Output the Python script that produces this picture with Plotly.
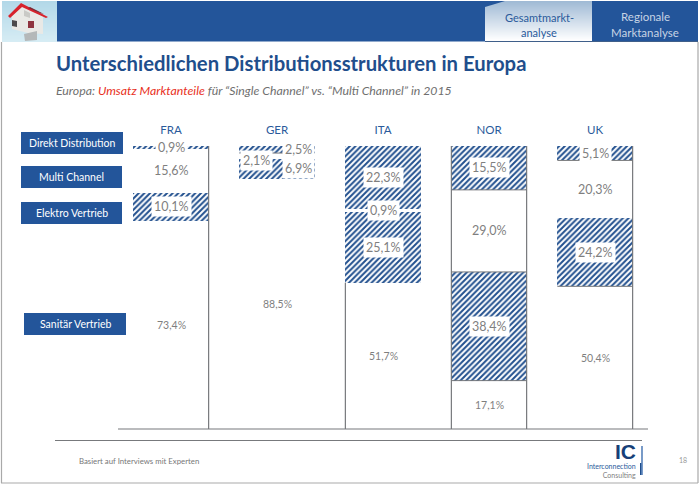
import plotly.graph_objects as go

# ---------- data ----------
countries = ["FRA", "GER", "ITA", "NOR", "UK"]
sanitaer = [73.4, 88.5, 51.7, 17.1, 50.4]
elektro = [10.1, 6.9, 25.1, 38.4, 24.2]
multi = [15.6, 2.1, 0.9, 29.0, 20.3]
direkt = [0.9, 2.5, 22.3, 15.5, 5.1]
channel_names = ["Sanitär Vertrieb", "Elektro Vertrieb", "Multi Channel", "Direkt Distribution"]

title_text = "Unterschiedlichen Distributionsstrukturen in Europa"
footer_text = "Basiert auf Interviews mit Experten"

# ---------- style ----------
W, H = 700, 485
FONT = "Lato"
BLUE = "#23559a"
NAVY = "#1f4e8c"
GREY = "#7f7f7f"
LINE = "#77797c"
BAR_W = 0.71
PLOT_L, PLOT_R, PLOT_T, PLOT_B = 118, 648, 146, 429


def px(v):
    return v / W


def py(v):
    return 1 - v / H


def rect(x0, y0, x1, y1, color, **kw):
    return dict(type="rect", xref="paper", yref="paper", x0=px(x0), x1=px(x1),
                y0=py(y0), y1=py(y1), fillcolor=color, line_width=0, layer="below", **kw)


def poly(points, color, layer="below"):
    d = "M " + " L ".join(f"{px(a):.5f},{py(b):.5f}" for a, b in points) + " Z"
    return dict(type="path", xref="paper", yref="paper", path=d, fillcolor=color,
                line_width=0, layer=layer)


def hline(x0, x1, y, color=LINE, width=1):
    return dict(type="line", xref="paper", yref="paper", x0=px(x0), x1=px(x1),
                y0=py(y), y1=py(y), line=dict(color=color, width=width))


def vline(x, y0, y1, color="#a9a9a9", width=1.2):
    return dict(type="line", xref="paper", yref="paper", x0=px(x), x1=px(x),
                y0=py(y0), y1=py(y1), line=dict(color=color, width=width))


def mix(c1, c2, t):
    return "rgb(" + ",".join(str(round(a + (b - a) * t)) for a, b in zip(c1, c2)) + ")"


def txt(x, y, s, size=11, color=GREY, anchor="center", family=FONT, **kw):
    return dict(xref="paper", yref="paper", x=px(x), y=py(y), text=s, showarrow=False,
                xanchor=anchor, yanchor="middle", font=dict(size=size, color=color, family=family), **kw)


fig = go.Figure()

hatch = dict(shape="/", size=4, solidity=0.5, fgcolor="#23518f", fgopacity=1, bgcolor="white")
series = [(sanitaer, False), (elektro, True), (multi, False), (direkt, True)]
xs = list(range(len(countries)))
for (vals, hatched), name in zip(series, channel_names):
    fig.add_bar(x=xs, y=vals, name=name, width=BAR_W, showlegend=False,
                marker=dict(color="white", line_width=0,
                            pattern=hatch if hatched else dict(shape="")))

# cumulative boundaries per country, bottom to top
bounds = []
for i in xs:
    b = [0]
    for vals, _ in series:
        b.append(b[-1] + vals[i])
    bounds.append(b)

# gray outlines that survive in the reference: (country index, side, from-boundary, to-boundary)
side_edges = [(0, 1, 0, 4), (2, -1, 0, 1), (3, -1, 0, 4), (3, 1, 0, 4), (4, 1, 0, 4)]
for i, side, a, b in side_edges:
    xv = i + side * BAR_W / 2
    fig.add_scatter(x=[xv, xv], y=[bounds[i][a], bounds[i][b]], mode="lines",
                    line=dict(color=LINE, width=1.2), showlegend=False, hoverinfo="skip")
# horizontal segment separators: (country index, boundary index)
sep_edges = [(1, 3), (3, 1), (3, 2), (3, 3), (4, 1), (4, 3)]
for i, k in sep_edges:
    fig.add_scatter(x=[i - BAR_W / 2, i + BAR_W / 2], y=[bounds[i][k], bounds[i][k]], mode="lines",
                    line=dict(color=LINE, width=1), showlegend=False, hoverinfo="skip")

annots = []
# value labels on the segments
offsets = {(1, 1): (21, 0), (1, 3): (21, 0), (1, 2): (-21, 4)}
for s_idx, (vals, hatched) in enumerate(series):
    for i in xs:
        dx, dy = offsets.get((i, s_idx), (0, 0))
        boxed = hatched or (i, s_idx) in [(1, 2), (2, 2)]
        annots.append(dict(
            x=i, y=bounds[i][s_idx] + vals[i] / 2, xref="x", yref="y",
            text=f"{vals[i]:.1f}%".replace(".", ","), showarrow=False,
            xshift=dx, yshift=-dy,
            font=dict(size=12.5 if boxed or s_idx == 2 else 10.5, color=GREY, family=FONT),
            bgcolor="white" if boxed else "rgba(0,0,0,0)", borderpad=2,
        ))

# channel boxes on the left
boxes = [("Direkt Distribution", 21, 123, 132, 154),
         ("Multi Channel", 21, 122, 166, 188),
         ("Elektro Vertrieb", 21, 122, 202, 224),
         ("Sanitär Vertrieb", 24, 126, 313, 335)]

shapes = []
# frame
shapes += [vline(1.5, 42, 483), vline(698, 42, 483), hline(1, 698, 483, "#a9a9a9", 1.2)]
# header band
shapes.append(rect(57, 1, 698, 41.5, BLUE))
# icon gradient
for j in range(41):
    shapes.append(rect(2, 1 + j, 57, 2 + j, mix((178, 216, 232), (214, 236, 244), j / 40)))
# tab gradient
for j in range(40):
    shapes.append(rect(485, 1 + j, 592, 2 + j, mix((160, 186, 213), (255, 255, 255), j / 39)))
shapes.append(poly([(485, 1), (505, 1), (485, 7)], BLUE))
shapes.append(hline(485, 698, 41.5, "#3f5f8a", 1))
# house
shapes += [
    poly([(12, 16), (22, 6), (43, 16), (43, 34), (28, 33), (12, 29)], "#e9e9e6"),
    poly([(24, 34), (37, 31), (37, 40), (25, 41)], "#b4b8b9"),
    poly([(8, 16), (21, 3), (48, 17), (46, 18), (22, 7), (10, 18)], "#d8222c"),
    poly([(30, 7), (44, 14), (40, 13), (28, 8)], "#7d2a35"),
    poly([(12, 20), (17, 21), (17, 27), (12, 26)], "#4c4a4d"),
    poly([(28, 21), (34, 21), (34, 28), (28, 28)], "#8f3440"),
    poly([(24, 10), (30, 13), (30, 18), (24, 16)], "#c9c9c6"),
]
# rules
shapes += [hline(PLOT_L, PLOT_R, PLOT_B, LINE, 1.2), hline(55, 642, 440.5, LINE, 1.2)]
# logo bars
shapes += [vline(642, 446, 475, "#3f70b0", 1.4), rect(640, 463, 641.5, 475, "#1f4e8c")]
for label, x0, x1, y0, y1 in boxes:
    shapes.append(rect(x0, y0, x1, y1, BLUE))
    annots.append(txt((x0 + x1) / 2, (y0 + y1) / 2, label, 10.5, "white"))

annots += [
    txt(54, 63, f"<b>{title_text}</b>", 20.3, NAVY, "left"),
    txt(54, 90, '<i>Europa: <span style="color:#e8301c">Umsatz Marktanteile</span> für '
                '“Single Channel” vs. “Multi Channel” in 2015</i>', 12.3, "#6f6f6f", "left"),
    txt(539, 18, "Gesamtmarkt-", 11, "#2a5a9b"),
    txt(539, 33, "analyse", 11, "#2a5a9b"),
    txt(645, 17, "Regionale", 11.5, "#c6d3e4"),
    txt(645, 33, "Marktanalyse", 11.5, "#c6d3e4"),
    txt(77, 461, footer_text, 7.8, "#777777", "left"),
    txt(638, 451, "<b>IC</b>", 21, "#173f78", "right", "Liberation Sans"),
    txt(638, 470, '<span style="color:#2a5a9b">Interconnection</span><br>Consulting',
        7, "#808080", "right", align="right"),
    txt(683, 460, "18", 7, "#999999"),
]

fig.update_layout(
    width=W, height=H, autosize=False, showlegend=False, barmode="stack", bargap=0,
    margin=dict(l=0, r=0, t=0, b=0),
    paper_bgcolor="white", plot_bgcolor="rgba(0,0,0,0)",
    font=dict(family=FONT, color=GREY),
    xaxis=dict(domain=[px(PLOT_L), px(PLOT_R)], range=[-0.5, 4.5], side="top", tickvals=xs,
               ticktext=countries, ticks="outside", ticklen=6, tickcolor="rgba(0,0,0,0)",
               tickfont=dict(size=11.5, color="#2a5a9b", family=FONT),
               showgrid=False, zeroline=False, showline=False, anchor="y"),
    yaxis=dict(domain=[py(PLOT_B), py(PLOT_T)], range=[0, 100], visible=False,
               showgrid=False, zeroline=False),
    shapes=shapes, annotations=annots,
)

fig.write_html("out.html", config=dict(displayModeBar=False),
               post_script="document.body.style.margin='0';document.documentElement.style.overflow='hidden';")
